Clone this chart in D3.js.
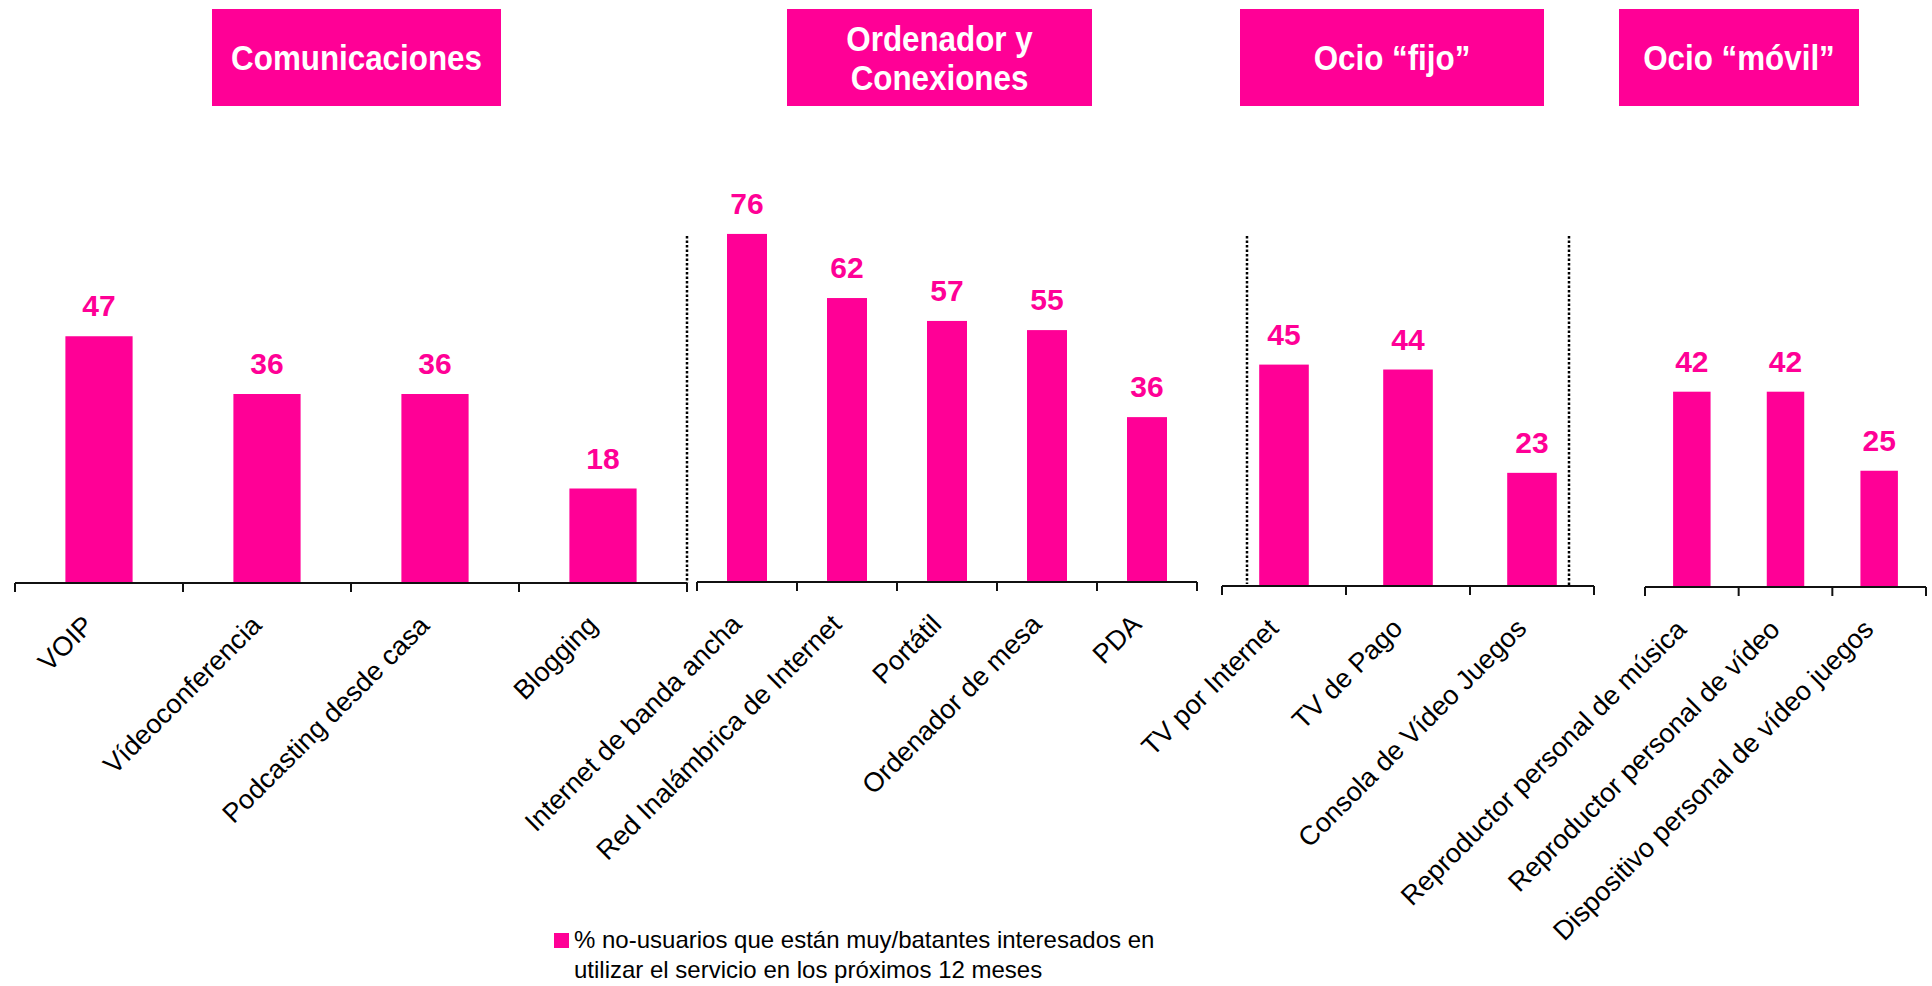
<!DOCTYPE html>
<html><head><meta charset="utf-8">
<script src="https://cdn.jsdelivr.net/npm/d3@7"></script>
<style>body{margin:0;background:#fff;overflow:hidden} svg{display:block}</style>
</head><body>
<svg id="c" width="1932" height="986"></svg>
<script>
// ---- data ----
const groupTitles = [["Comunicaciones"], ["Ordenador y", "Conexiones"], ["Ocio “fijo”"], ["Ocio “móvil”"]];
const catsComunicaciones = ["VOIP", "Vídeoconferencia", "Podcasting desde casa", "Blogging"];
const valsComunicaciones = [47, 36, 36, 18];
const catsOrdenador = ["Internet de banda ancha", "Red Inalámbrica de Internet", "Portátil", "Ordenador de mesa", "PDA"];
const valsOrdenador = [76, 62, 57, 55, 36];
const catsOcioFijo = ["TV por Internet", "TV de Pago", "Consola de Vídeo Juegos"];
const valsOcioFijo = [45, 44, 23];
const catsOcioMovil = ["Reproductor personal de música", "Reproductor personal de vídeo", "Dispositivo personal de vídeo juegos"];
const valsOcioMovil = [42, 42, 25];
const legendLines = ["% no-usuarios que están muy/batantes interesados en", "utilizar el servicio en los próximos 12 meses"];

// ---- layout ----
const PINK = "#ff0096";
const FONT = "'Liberation Sans', Arial, Helvetica, sans-serif";
const panels = [
  {cats: catsComunicaciones, vals: valsComunicaciones, x0: 15,   x1: 687,  base: 583, k: 5.25, box: [212, 501]},
  {cats: catsOrdenador,      vals: valsOrdenador,      x0: 697,  x1: 1197, base: 582, k: 4.58, box: [787, 1092]},
  {cats: catsOcioFijo,       vals: valsOcioFijo,       x0: 1222, x1: 1594, base: 586, k: 4.92, box: [1240, 1544]},
  {cats: catsOcioMovil,      vals: valsOcioMovil,      x0: 1645, x1: 1926, base: 587, k: 4.65, box: [1619, 1859]}
];
const dividers = [{x: 687, y2: 583}, {x: 1247, y2: 584}, {x: 1569, y2: 585}];

const svg = d3.select("#c");

// header boxes
panels.forEach((p, i) => {
  const g = svg.append("g");
  g.append("rect").attr("x", p.box[0]).attr("y", 9).attr("width", p.box[1] - p.box[0]).attr("height", 97).attr("fill", PINK);
  const lines = groupTitles[i];
  const cx = (p.box[0] + p.box[1]) / 2;
  const baselines = lines.length === 1 ? [70] : [51, 90];
  lines.forEach((t, j) => {
    g.append("text")
      .attr("transform", `translate(${cx},${baselines[j]}) scale(0.98,1.12)`)
      .attr("text-anchor", "middle")
      .attr("font-family", FONT).attr("font-weight", "bold").attr("font-size", 32)
      .attr("fill", "#fff").text(t);
  });
});

// dotted dividers
svg.selectAll("line.div").data(dividers).enter().append("line")
  .attr("x1", d => d.x).attr("x2", d => d.x).attr("y1", 236).attr("y2", d => d.y2)
  .attr("stroke", "#000").attr("stroke-width", 2.5).attr("stroke-dasharray", "2.5,2");

// panels
panels.forEach(p => {
  const x = d3.scaleBand().domain(p.cats).range([p.x0, p.x1]).paddingInner(0.6).paddingOuter(0.3);
  const y = d3.scaleLinear().domain([0, 100]).range([p.base, p.base - 100 * p.k]);
  const g = svg.append("g");
  const data = p.cats.map((c, i) => ({c, v: p.vals[i]}));

  g.selectAll("rect.bar").data(data).enter().append("rect")
    .attr("x", d => x(d.c)).attr("width", x.bandwidth())
    .attr("y", d => y(d.v)).attr("height", d => y(0) - y(d.v))
    .attr("fill", PINK);

  g.selectAll("text.val").data(data).enter().append("text")
    .attr("x", d => x(d.c) + x.bandwidth() / 2).attr("y", d => y(d.v) - 20)
    .attr("text-anchor", "middle").attr("font-family", FONT).attr("font-weight", "bold")
    .attr("font-size", 30).attr("fill", PINK).text(d => d.v);

  // axis line and boundary ticks
  g.append("line").attr("x1", p.x0).attr("x2", p.x1).attr("y1", y(0)).attr("y2", y(0))
    .attr("stroke", "#111").attr("stroke-width", 2);
  const bounds = d3.range(p.cats.length + 1).map(i => p.x0 + i * x.step() - (i > 0 ? 0 : 0) + (i === 0 ? 0 : 0) - x.step() * x.paddingOuter() + x.step() * x.paddingOuter());
  g.selectAll("line.tick").data(bounds).enter().append("line")
    .attr("x1", d => d).attr("x2", d => d).attr("y1", y(0)).attr("y2", y(0) + 9)
    .attr("stroke", "#111").attr("stroke-width", 2);

  // rotated category labels
  g.selectAll("text.cat").data(data).enter().append("text")
    .attr("transform", d => `translate(${x(d.c) + x.bandwidth() / 2 - 4},${y(0) + 44}) rotate(-45)`)
    .attr("text-anchor", "end").attr("font-family", FONT).attr("font-size", 27)
    .attr("fill", "#000").text(d => d.c);
});

// legend
const lg = svg.append("g");
lg.append("rect").attr("x", 554).attr("y", 933).attr("width", 15).attr("height", 15).attr("fill", PINK);
lg.selectAll("text").data(legendLines).enter().append("text")
  .attr("x", 574).attr("y", (d, i) => 948 + i * 30)
  .attr("font-family", FONT).attr("font-size", 24).attr("fill", "#000").text(d => d);
</script>
</body></html>
